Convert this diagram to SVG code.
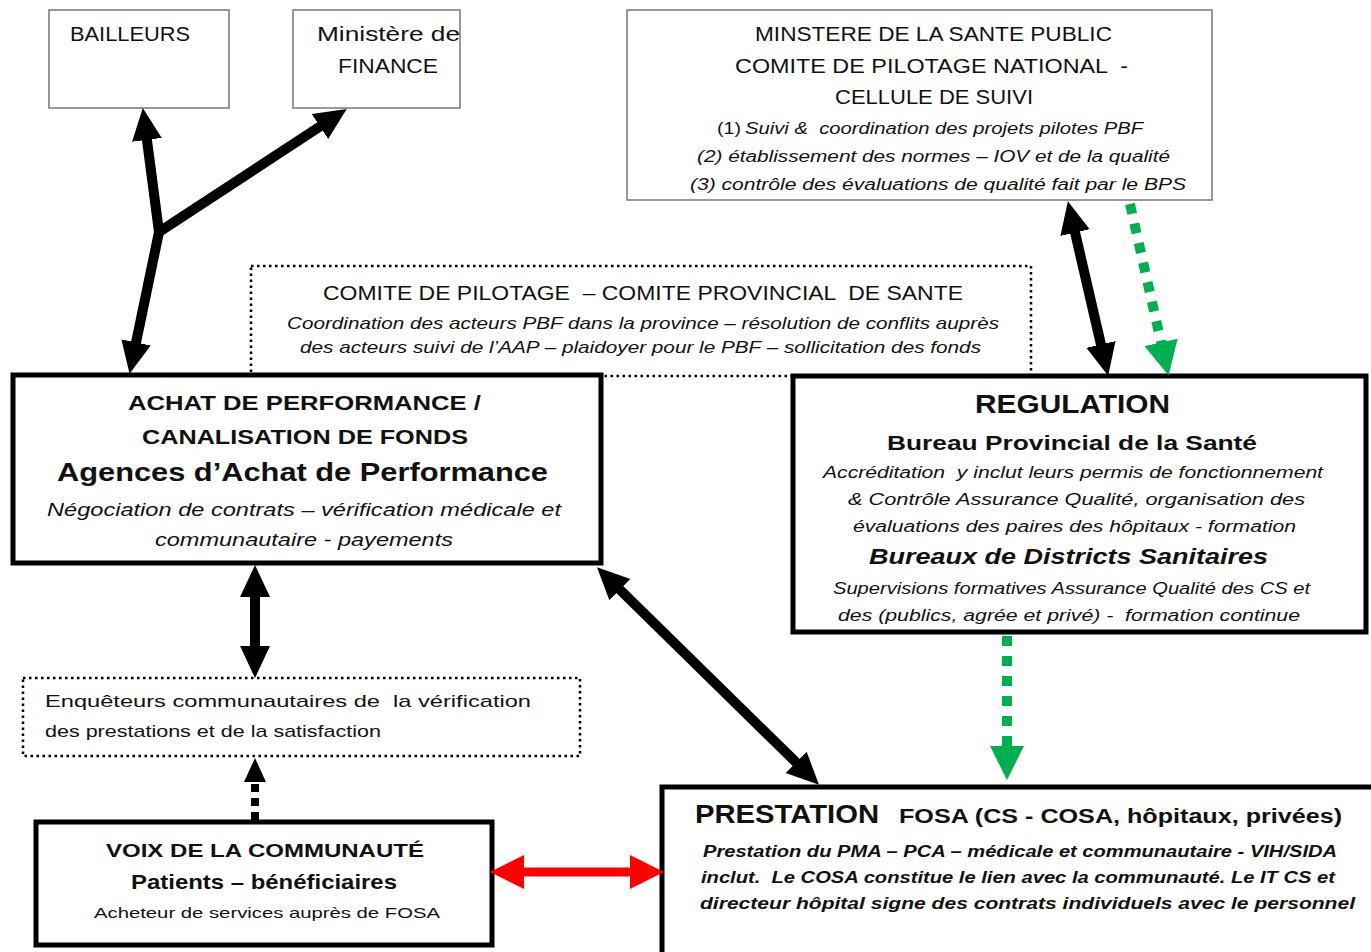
<svg xmlns="http://www.w3.org/2000/svg" width="1371" height="952" viewBox="0 0 1371 952">
<defs>
<style>
text{font-family:"Liberation Sans",Arial,sans-serif;fill:#111;white-space:pre}
.c{text-anchor:middle}
.b{font-weight:bold}
.i{font-style:italic}
.thin{fill:#fff;stroke:#777;stroke-width:1.5}
.thick{fill:#fff;stroke:#000;stroke-width:5}
.dot{fill:none;stroke:#000;stroke-width:2.5;stroke-dasharray:2.5 3.5}
.blk{stroke:#000;stroke-width:10;fill:none}
.grn{stroke:#00b050;stroke-width:10;stroke-dasharray:10 10;fill:none}
</style>
<marker id="ah" markerUnits="userSpaceOnUse" markerWidth="32" markerHeight="32" refX="18" refY="16" orient="auto-start-reverse" viewBox="0 0 32 32">
<path d="M0,1 L32,16 L0,31 z" fill="#000"/>
</marker>
<marker id="ahs" markerUnits="userSpaceOnUse" markerWidth="24" markerHeight="24" refX="12" refY="12" orient="auto" viewBox="0 0 24 24">
<path d="M0,1 L24,12 L0,23 z" fill="#000"/>
</marker>
<marker id="ahr" markerUnits="userSpaceOnUse" markerWidth="34" markerHeight="34" refX="18" refY="17" orient="auto-start-reverse" viewBox="0 0 34 34">
<path d="M0,0 L34,17 L0,34 z" fill="#f00"/>
</marker>
<marker id="ahg" markerUnits="userSpaceOnUse" markerWidth="34" markerHeight="34" refX="18" refY="17" orient="auto" viewBox="0 0 34 34">
<path d="M0,0 L34,17 L0,34 z" fill="#00b050"/>
</marker>
</defs>
<rect width="1371" height="952" fill="#fff"/>

<g id="comite-provincial">
<rect class="dot" x="251" y="266" width="780" height="110"/>
<text x="323" y="300" font-size="21" textLength="640" lengthAdjust="spacingAndGlyphs">COMITE DE PILOTAGE  – COMITE PROVINCIAL  DE SANTE</text>
<text class="i" x="287" y="329" font-size="17" textLength="712" lengthAdjust="spacingAndGlyphs">Coordination des acteurs PBF dans la province – résolution de conflits auprès</text>
<text class="i" x="300" y="353" font-size="17" textLength="681" lengthAdjust="spacingAndGlyphs">des acteurs suivi de l’AAP – plaidoyer pour le PBF – sollicitation des fonds</text>
</g>

<g id="bailleurs">
<rect class="thin" x="49" y="10" width="180" height="98"/>
<text x="70" y="41" font-size="20" textLength="120" lengthAdjust="spacingAndGlyphs">BAILLEURS</text>
</g>

<g id="ministere-finance">
<rect class="thin" x="293" y="10" width="167" height="98"/>
<text x="317" y="41" font-size="20" textLength="143" lengthAdjust="spacingAndGlyphs">Ministère de</text>
<text x="338" y="73" font-size="20" textLength="100" lengthAdjust="spacingAndGlyphs">FINANCE</text>
</g>

<g id="ministere-sante">
<rect class="thin" x="627" y="10" width="585" height="190"/>
<text x="755" y="41" font-size="20" textLength="357" lengthAdjust="spacingAndGlyphs">MINSTERE DE LA SANTE PUBLIC</text>
<text x="735" y="73" font-size="20" textLength="393" lengthAdjust="spacingAndGlyphs">COMITE DE PILOTAGE NATIONAL  -</text>
<text x="835" y="104" font-size="20" textLength="198" lengthAdjust="spacingAndGlyphs">CELLULE DE SUIVI</text>
<text x="717" y="134" font-size="16" textLength="24" lengthAdjust="spacingAndGlyphs">(1)</text>
<text class="i" x="745" y="134" font-size="16" textLength="398" lengthAdjust="spacingAndGlyphs">Suivi &amp;  coordination des projets pilotes PBF</text>
<text class="i" x="697" y="162" font-size="16" textLength="473" lengthAdjust="spacingAndGlyphs">(2) établissement des normes – IOV et de la qualité</text>
<text class="i" x="690" y="190" font-size="16" textLength="496" lengthAdjust="spacingAndGlyphs">(3) contrôle des évaluations de qualité fait par le BPS</text>
</g>

<g id="achat">
<rect class="thick" x="13" y="375" width="588" height="188"/>
<text class="b" x="128" y="410" font-size="21" textLength="353" lengthAdjust="spacingAndGlyphs">ACHAT DE PERFORMANCE /</text>
<text class="b" x="142" y="444" font-size="21" textLength="326" lengthAdjust="spacingAndGlyphs">CANALISATION DE FONDS</text>
<text class="b" x="57" y="481" font-size="25" textLength="491" lengthAdjust="spacingAndGlyphs">Agences d’Achat de Performance</text>
<text class="i" x="47" y="516" font-size="18" textLength="514" lengthAdjust="spacingAndGlyphs">Négociation de contrats – vérification médicale et</text>
<text class="i" x="155" y="546" font-size="18" textLength="298" lengthAdjust="spacingAndGlyphs">communautaire - payements</text>
</g>

<g id="regulation">
<rect class="thick" x="793" y="376" width="573" height="256"/>
<text class="b" x="975" y="413" font-size="26" textLength="195" lengthAdjust="spacingAndGlyphs">REGULATION</text>
<text class="b" x="887" y="450" font-size="21" textLength="370" lengthAdjust="spacingAndGlyphs">Bureau Provincial de la Santé</text>
<text class="i" x="823" y="478" font-size="16" textLength="500" lengthAdjust="spacingAndGlyphs">Accréditation  y inclut leurs permis de fonctionnement</text>
<text class="i" x="848" y="505" font-size="16" textLength="457" lengthAdjust="spacingAndGlyphs">&amp; Contrôle Assurance Qualité, organisation des</text>
<text class="i" x="853" y="532" font-size="16" textLength="443" lengthAdjust="spacingAndGlyphs">évaluations des paires des hôpitaux - formation</text>
<text class="b i" x="869" y="564" font-size="22" textLength="399" lengthAdjust="spacingAndGlyphs">Bureaux de Districts Sanitaires</text>
<text class="i" x="833" y="594" font-size="16" textLength="477" lengthAdjust="spacingAndGlyphs">Supervisions formatives Assurance Qualité des CS et</text>
<text class="i" x="838" y="621" font-size="16" textLength="462" lengthAdjust="spacingAndGlyphs">des (publics, agrée et privé) -  formation continue</text>
</g>

<g id="enqueteurs">
<rect class="dot" x="23" y="678" width="557" height="78"/>
<text x="45" y="707" font-size="17" textLength="486" lengthAdjust="spacingAndGlyphs">Enquêteurs communautaires de  la vérification</text>
<text x="45" y="737" font-size="17" textLength="336" lengthAdjust="spacingAndGlyphs">des prestations et de la satisfaction</text>
</g>

<g id="voix">
<rect class="thick" x="36" y="822" width="456" height="123"/>
<text class="b" x="106" y="857" font-size="19" textLength="318" lengthAdjust="spacingAndGlyphs">VOIX DE LA COMMUNAUTÉ</text>
<text class="b" x="131" y="889" font-size="21" textLength="266" lengthAdjust="spacingAndGlyphs">Patients – bénéficiaires</text>
<text x="94" y="918" font-size="15" textLength="346" lengthAdjust="spacingAndGlyphs">Acheteur de services auprès de FOSA</text>
</g>

<g id="prestation">
<rect class="thick" x="662" y="787" width="712" height="170"/>
<text class="b" x="695" y="823" font-size="25" textLength="184" lengthAdjust="spacingAndGlyphs">PRESTATION</text>
<text class="b" x="899" y="823" font-size="20" textLength="443" lengthAdjust="spacingAndGlyphs">FOSA (CS - COSA, hôpitaux, privées)</text>
<text class="b i" x="703" y="857" font-size="16" textLength="634" lengthAdjust="spacingAndGlyphs">Prestation du PMA – PCA – médicale et communautaire - VIH/SIDA</text>
<text class="b i" x="701" y="883" font-size="16" textLength="634" lengthAdjust="spacingAndGlyphs">inclut.  Le COSA constitue le lien avec la communauté. Le IT CS et</text>
<text class="b i" x="700" y="909" font-size="16" textLength="655" lengthAdjust="spacingAndGlyphs">directeur hôpital signe des contrats individuels avec le personnel</text>
</g>

<g id="connectors">
<line class="blk" x1="159" y1="232" x2="144.6" y2="122" stroke-linecap="round" marker-end="url(#ah)"/>
<line class="blk" x1="159" y1="232" x2="335" y2="116.6" stroke-linecap="round" marker-end="url(#ah)"/>
<line class="blk" x1="159" y1="232" x2="132.4" y2="360" stroke-linecap="round" marker-end="url(#ah)"/>
<line class="blk" x1="255" y1="579" x2="255" y2="664" marker-start="url(#ah)" marker-end="url(#ah)"/>
<line x1="255" y1="820" x2="255" y2="770" stroke="#000" stroke-width="8" stroke-dasharray="8 6" marker-end="url(#ahs)"/>
<line x1="506" y1="872" x2="648" y2="872" stroke="#f00" stroke-width="9" marker-start="url(#ahr)" marker-end="url(#ahr)"/>
<line class="blk" x1="607" y1="577" x2="809" y2="775" marker-start="url(#ah)" marker-end="url(#ah)"/>
<line class="grn" x1="1007" y1="636" x2="1007" y2="764" marker-end="url(#ahg)"/>
<line class="blk" x1="1071" y1="215" x2="1105" y2="362" marker-start="url(#ah)" marker-end="url(#ah)"/>
<line class="grn" x1="1130" y1="204" x2="1165" y2="360" marker-end="url(#ahg)"/>
</g>
</svg>
